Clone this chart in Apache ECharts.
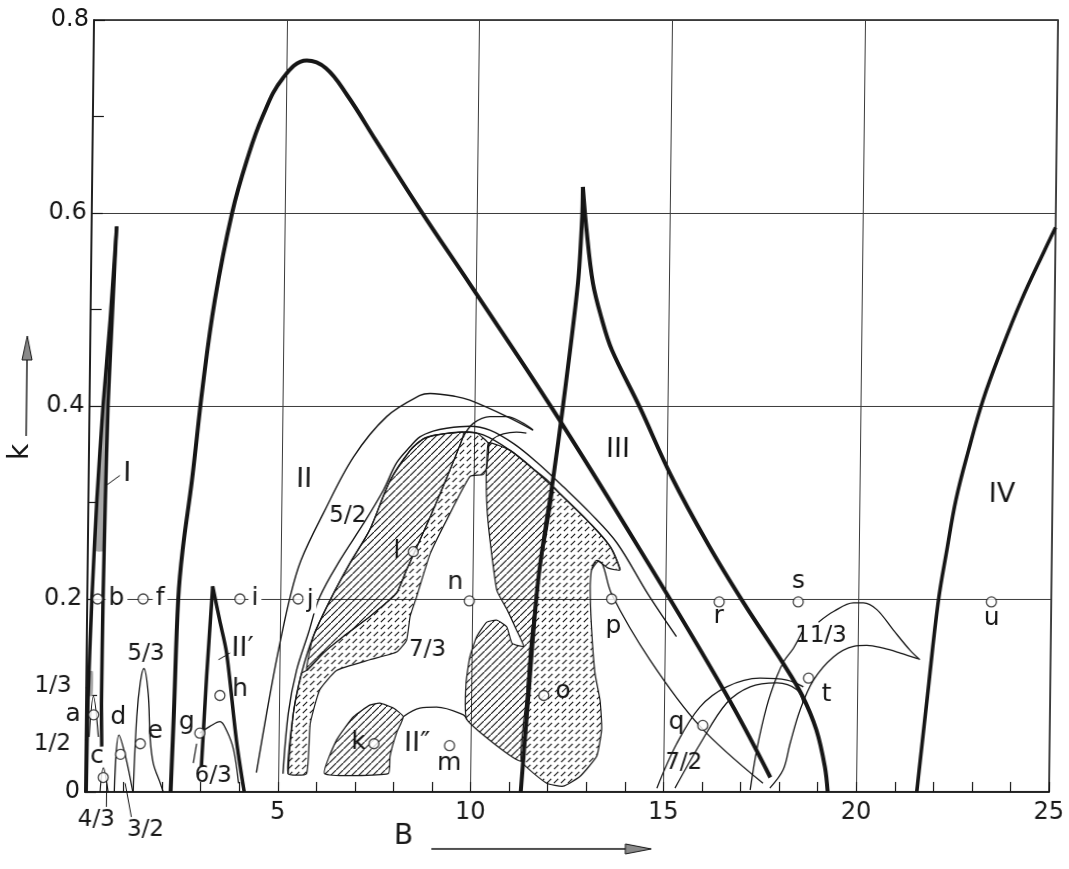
<!DOCTYPE html>
<html><head><meta charset="utf-8">
<script src="https://cdn.jsdelivr.net/npm/echarts/dist/echarts.min.js"></script>
<style>html,body{margin:0;padding:0;background:#fff;}#c{width:1069px;height:869px;transform:skewX(-0.668deg);transform-origin:0 792px;}</style>
</head><body><div id="c"></div>
<script>
// ---------- axis labels ----------
const xTickLabels = ['', '5', '10', '15', '20', '25'];
const yTickLabels = ['0', '0.2', '0.4', '0.6', '0.8'];

// ---------- thick boundary curves ----------
const curveII = [[2.22,0],[2.28,0.08],[2.36,0.2],[2.46,0.251],[2.68,0.323],[2.93,0.42],[3.22,0.51],[3.64,0.6],[4.01,0.655],[4.4,0.70],[4.92,0.74],[5.53,0.758],[6.03,0.75],[6.59,0.722],[7.35,0.675],[8.52,0.603],[9.85,0.525],[11.99,0.398],[14.32,0.251],[16.57,0.103],[17.77,0.015]];
const curveIIIleft = [[11.3,0],[11.47,0.1],[11.69,0.22],[12.05,0.326],[12.28,0.4],[12.63,0.527],[12.72,0.596],[12.73,0.627]];
const curveIIIright = [[12.73,0.627],[12.83,0.585],[13.02,0.527],[13.26,0.49],[13.53,0.458],[14.28,0.398],[15.1,0.328],[16.11,0.255],[17.04,0.195],[18.07,0.133],[18.57,0.1],[18.95,0.064],[19.18,0.026],[19.26,0]];
const curveIIpLeft = [[3.01,0.026],[3.12,0.12],[3.25,0.213]];
const curveIIpRight = [[3.25,0.213],[3.44,0.178],[3.63,0.144],[3.91,0.054],[4.13,0]];
const curveIV = [[21.57,0],[21.82,0.1],[22.07,0.197],[22.28,0.251],[22.5,0.303],[22.81,0.354],[23.17,0.406],[23.63,0.458],[24.14,0.51],[24.73,0.562],[25.0,0.585]];
const curveIa = [[0.03,0],[0.05,0.095],[0.12,0.2],[0.22,0.303],[0.35,0.399],[0.51,0.489],[0.65,0.586]];
const curveIb = [[0.42,0.047],[0.40,0.095],[0.41,0.2],[0.44,0.303],[0.48,0.399],[0.56,0.489],[0.65,0.586]];
const regionIgray = [[0.17,0.25],[0.22,0.303],[0.35,0.399],[0.51,0.489],[0.6,0.55],[0.54,0.489],[0.48,0.399],[0.44,0.303],[0.42,0.25]];

// ---------- small subharmonic curves, left ----------
const region13 = [[0.05,0.1],[0.06,0.125],[0.17,0.125],[0.17,0.1]];
const curveA = [[0.09,0.057],[0.19,0.099],[0.33,0.057]];
const curveC = [[0.39,0],[0.47,0.025],[0.6,0]];
const curveD = [[0.76,0],[0.86,0.059],[1.04,0.037],[1.24,0]];
const curve53 = [[1.25,0],[1.32,0.078],[1.40,0.113],[1.49,0.128],[1.61,0.102],[1.67,0.057],[1.76,0.03],[1.95,0.009],[2.03,0]];
const curveGleft = [[2.8,0.03],[2.88,0.05]];
const curve63 = [[2.96,0.061],[3.22,0.068],[3.48,0.073],[3.65,0.064],[3.84,0.044],[3.98,0.009]];

// ---------- central arch ----------
const curve52 = [[4.44,0.02],[4.68,0.08],[4.96,0.144],[5.26,0.202],[5.53,0.24],[6.1,0.289],[6.86,0.347],[7.71,0.389],[8.57,0.411],[8.83,0.413],[9.48,0.41],[9.86,0.406],[10.83,0.389],[11.51,0.375]];
const archA1 = [[5.13,0.019],[5.25,0.082],[5.45,0.126],[5.74,0.164],[6.03,0.202],[6.54,0.24],[7.14,0.278],[7.65,0.313],[7.98,0.341],[8.33,0.358],[8.58,0.368],[8.92,0.374],[9.27,0.377],[9.87,0.379],[10.39,0.375],[11.01,0.361],[11.61,0.342],[12.32,0.316],[13.02,0.289],[13.72,0.258],[14.54,0.205],[15.29,0.161]];
const archA2 = [[5.26,0.019],[5.38,0.082],[5.58,0.123],[5.87,0.161],[6.34,0.202],[6.8,0.237],[7.31,0.272],[7.82,0.323],[8.33,0.354],[8.67,0.366],[9.01,0.37],[9.7,0.373],[10.22,0.37],[10.92,0.354],[11.52,0.335],[12.23,0.309],[12.93,0.282],[13.55,0.254],[13.81,0.23]];
const arcX1 = [[9.7,0.368],[9.96,0.382],[10.39,0.389],[10.83,0.389],[11.26,0.382],[11.51,0.375]];
const arcX2 = [[10.36,0.359],[10.48,0.366],[10.74,0.371],[11.08,0.373],[11.34,0.372]];
const lineP = [[13.07,0.23],[13.2,0.24],[13.35,0.236],[13.6,0.205],[14.61,0.137],[15.93,0.068],[17.58,0.009]];
const humpII2 = [[8.23,0.078],[8.66,0.087],[9.09,0.088],[9.79,0.08],[9.88,0.075]];

const regionS1 = [[5.71,0.126],[5.87,0.161],[6.34,0.202],[6.8,0.237],[7.31,0.272],[7.82,0.323],[8.33,0.354],[8.67,0.366],[9.01,0.37],[9.7,0.373],[9.7,0.368],[9.26,0.323],[8.87,0.285],[8.53,0.254],[8.27,0.23],[8.02,0.206],[7.34,0.182],[6.65,0.161],[6.14,0.144]];
const regionD1 = [[5.26,0.019],[5.38,0.082],[5.58,0.123],[5.71,0.126],[6.14,0.144],[6.65,0.161],[7.34,0.182],[8.02,0.206],[8.27,0.23],[8.53,0.254],[8.87,0.285],[9.26,0.323],[9.7,0.368],[9.74,0.373],[10.05,0.372],[10.36,0.361],[10.32,0.337],[10.23,0.329],[9.89,0.327],[9.3,0.282],[8.88,0.247],[8.54,0.202],[8.38,0.182],[8.29,0.157],[8.04,0.145],[7.35,0.137],[6.49,0.126],[6.06,0.106],[5.82,0.071],[5.74,0.019]];
const regionS2 = [[10.36,0.362],[10.92,0.354],[11.52,0.335],[12.05,0.316],[11.69,0.22],[11.5,0.151],[11.42,0.099],[11.31,0.032],[9.88,0.075],[9.85,0.113],[9.94,0.14],[10.11,0.161],[10.37,0.176],[10.63,0.178],[10.89,0.171],[11.03,0.154],[11.33,0.151],[11.14,0.168],[10.89,0.189],[10.62,0.209],[10.45,0.254],[10.35,0.289],[10.31,0.323],[10.32,0.341]];
const regionD2 = [[12.05,0.316],[12.23,0.309],[12.93,0.282],[13.55,0.254],[13.81,0.23],[13.5,0.232],[13.24,0.239],[13.07,0.23],[13.04,0.213],[13.09,0.168],[13.19,0.123],[13.33,0.095],[13.38,0.065],[13.26,0.037],[12.83,0.016],[12.4,0.006],[11.97,0.009],[11.31,0.032],[11.36,0.075],[11.42,0.099],[11.5,0.151],[11.69,0.22]];
const regionS4 = [[6.21,0.019],[6.51,0.054],[6.94,0.078],[7.36,0.09],[7.62,0.092],[7.97,0.087],[8.23,0.078],[8.06,0.061],[7.9,0.037],[7.86,0.019]];

// ---------- right-hand curves ----------
const arc72outer = [[14.83,0.004],[15.33,0.05],[15.92,0.088],[16.61,0.109],[17.47,0.118],[18.17,0.116],[18.6,0.109]];
const arc72inner = [[15.3,0.004],[15.94,0.05],[16.61,0.092],[17.22,0.109],[17.91,0.113],[18.43,0.106],[18.6,0.092]];
const curve113 = [[17.25,0.002],[17.41,0.044],[17.65,0.088],[17.91,0.12],[18.11,0.137],[18.33,0.149],[18.55,0.166]];
const wedgeLow = [[17.76,0.004],[18.1,0.023],[18.27,0.05],[18.52,0.085],[18.86,0.116],[19.37,0.14],[19.89,0.151],[20.23,0.152],[20.66,0.149],[21.1,0.144],[21.57,0.138]];
const wedgeHigh = [[18.97,0.176],[19.36,0.187],[19.87,0.196],[20.13,0.196],[20.48,0.189],[20.91,0.168],[21.35,0.147],[21.61,0.137]];

// ---------- leader lines ----------
const leader13 = [[-0.38,0.108],[0.05,0.108]];
const leader12 = [[-0.36,0.051],[0.0,0.054]];
const leaderI = [[0.47,0.318],[0.81,0.328]];
const leaderIIp = [[3.42,0.137],[3.72,0.144]];
const leader43 = [[0.56,0.009],[0.56,-0.0155]];
const leader32 = [[1.04,0.009],[1.21,-0.026]];

// ---------- marked points ----------
const circlePts = [[0.2,0.08],[0.27,0.2],[0.47,0.015],[0.91,0.039],[1.42,0.05],[1.45,0.2],[2.96,0.061],[3.47,0.1],[3.96,0.2],[5.47,0.2],[7.48,0.05],[8.44,0.249],[9.44,0.048],[9.91,0.198],[11.87,0.1],[13.6,0.2],[16.0,0.069],[16.39,0.197],[18.44,0.197],[18.73,0.118],[23.45,0.197]];

// ---------- text labels ----------
const letterNames = ['a','c','d','e','g','h','k','l','m','n','o','p','q','r','s','t','u'];
const letterPos = [[-0.33,0.08],[0.30,0.037],[0.84,0.077],[1.80,0.063],[2.62,0.072],[3.99,0.106],[7.08,0.051],[8.01,0.249],[9.44,0.03],[9.54,0.217],[12.37,0.104],[13.65,0.172],[15.32,0.072],[16.38,0.182],[18.44,0.218],[19.2,0.101],[23.46,0.18]];
const lineLetterNames = ['b','f','i','j'];
const lineLetterPos = [[0.76,0.201],[1.89,0.201],[4.35,0.201],[5.78,0.198]];
const fracNames = ['1/3','1/2','4/3','3/2','5/3','6/3','5/2','7/3','7/2','11/3'];
const fracPos = [[-0.86,0.11],[-0.86,0.05],[0.30,-0.029],[1.58,-0.039],[1.54,0.143],[3.32,0.017],[6.73,0.286],[8.84,0.147],[15.52,0.03],[19.04,0.162]];
const romanNames = ['I','II','II\u2032','II\u2033','III','IV'];
const romanPos = [[1.0,0.33],[5.59,0.323],[4.04,0.148],[8.6,0.05],[13.72,0.354],[23.69,0.308]];

// ---------- hatch patterns ----------
function makeHatch(dashed){
  const T = 7, c = document.createElement('canvas');
  c.width = T; c.height = T;
  const g = c.getContext('2d');
  g.strokeStyle = '#111'; g.lineWidth = 1.1;
  g.beginPath();
  if (dashed) { g.moveTo(T*0.12, T*0.88); g.lineTo(T*0.74, T*0.26); }
  else { g.moveTo(-1, T+1); g.lineTo(T+1, -1); }
  g.stroke();
  return c;
}
const hatchSolid = {image: makeHatch(false), repeat: 'repeat'};
const hatchDash = {image: makeHatch(true), repeat: 'repeat'};

const TICKFONT = 'DejaVu Sans, Liberation Sans, sans-serif';
const LABFONT = 'DejaVu Sans, Liberation Sans, sans-serif';
const INK = '#161616';

function lineS(data, w, z, extra){
  return Object.assign({type:'line', data:data, smooth:0.35, symbol:'none', clip:false, silent:true,
    lineStyle:{color:INK, width:w}, z:z}, extra||{});
}
function polyS(pts, fill, stroke){
  return {type:'custom', data:pts, z:1, silent:true, clip:false,
    renderItem:function(params, api){
      if (params.dataIndex !== 0) return null;
      return {type:'polygon', shape:{points:pts.map(function(p){return api.coord(p);}), smooth:0.15},
        style:{fill:fill, stroke:stroke ? INK : null, lineWidth:1.2}};
    }};
}
function textS(names, pos, size, bg){
  return {type:'custom', data:pos, z:8, silent:true, clip:false,
    renderItem:function(params, api){
      const p = api.coord(pos[params.dataIndex]);
      const st = {text:names[params.dataIndex], fontSize:size, fontFamily:LABFONT, fill:INK,
        align:'center', verticalAlign:'middle'};
      if (bg) { st.backgroundColor = '#fff'; st.padding = [0,3]; }
      return {type:'text', x:p[0], y:p[1], style:st};
    }};
}

const series = [
  polyS(regionIgray, '#a8a8a8', false),
  polyS(region13, '#a8a8a8', false),
  polyS(regionS1, hatchSolid, true),
  polyS(regionD1, hatchDash, true),
  polyS(regionS2, hatchSolid, true),
  polyS(regionD2, hatchDash, true),
  polyS(regionS4, hatchSolid, true),
  lineS(curveA, 1.2, 3), lineS(curveC, 1.2, 3), lineS(curveD, 1.3, 3), lineS(curve53, 1.3, 3),
  lineS(curveGleft, 1.2, 3), lineS(curve63, 1.3, 3),
  lineS(curve52, 1.4, 3), lineS(archA1, 1.4, 3), lineS(archA2, 1.4, 3),
  lineS(arcX1, 1.3, 3), lineS(arcX2, 1.3, 3), lineS(lineP, 1.3, 3), lineS(humpII2, 1.3, 3),
  lineS(arc72outer, 1.3, 3), lineS(arc72inner, 1.3, 3), lineS(curve113, 1.3, 3),
  lineS(wedgeLow, 1.3, 3), lineS(wedgeHigh, 1.3, 3),
  lineS(leader13, 1, 3, {smooth:false}), lineS(leader12, 1, 3, {smooth:false}), lineS(leaderI, 1, 3, {smooth:false}),
  lineS(leaderIIp, 1, 3, {smooth:false}), lineS(leader43, 1, 3, {smooth:false}), lineS(leader32, 1, 3, {smooth:false}),
  lineS(curveII, 4, 4, {smooth:0.4}), lineS(curveIIIleft, 4, 4, {smooth:0.3}), lineS(curveIIIright, 4, 4, {smooth:0.35}),
  lineS(curveIIpLeft, 3.5, 4, {smooth:0.2}), lineS(curveIIpRight, 3.5, 4, {smooth:0.3}),
  lineS(curveIV, 3.6, 4, {smooth:0.4}), lineS(curveIa, 3.5, 4, {smooth:0.2}), lineS(curveIb, 3.5, 4, {smooth:0.2}),
  {type:'scatter', data:circlePts, symbol:'circle', symbolSize:10, silent:true, z:6,
    itemStyle:{color:'#fff', borderColor:INK, borderWidth:1.3}},
  textS(letterNames, letterPos, 25, false),
  textS(lineLetterNames, lineLetterPos, 25, true),
  textS(fracNames, fracPos, 23, false),
  textS(romanNames, romanPos, 27, false)
];

const chart = echarts.init(document.getElementById('c'), null, {renderer:'canvas'});
chart.setOption({
  backgroundColor:'#fff',
  animation:false,
  grid:{left:85, right:20, top:20, bottom:77, containLabel:false, outerBoundsMode:'none',
    show:true, borderColor:INK, borderWidth:1.5, backgroundColor:'transparent'},
  xAxis:{type:'value', min:0, max:25, interval:5,
    axisLine:{show:true, lineStyle:{color:INK, width:1.5}},
    axisTick:{show:true, inside:true, length:10, lineStyle:{color:INK, width:1.2}},
    minorTick:{show:true, splitNumber:5, length:10, lineStyle:{color:INK, width:1.2}},
    splitLine:{show:true, lineStyle:{color:'#3a3a3a', width:1}},
    axisLabel:{fontSize:24, color:INK, fontFamily:TICKFONT, margin:9,
      formatter:function(v){return xTickLabels[Math.round(v/5)];}}},
  yAxis:{type:'value', min:0, max:0.8, interval:0.2,
    axisLine:{show:true, lineStyle:{color:INK, width:1.5}},
    axisTick:{show:true, inside:true, length:11, lineStyle:{color:INK, width:1.2}},
    minorTick:{show:true, splitNumber:2, length:11, lineStyle:{color:INK, width:1.2}},
    splitLine:{show:true, lineStyle:{color:'#3a3a3a', width:1}},
    axisLabel:{fontSize:24, color:INK, fontFamily:TICKFONT, margin:5,
      formatter:function(v){return yTickLabels[Math.round(v/0.2)];}}},
  graphic:[
    {type:'text', x:404, y:837, style:{text:'B', font:'28px DejaVu Sans', fill:INK, textAlign:'center', textVerticalAlign:'middle'}},
    {type:'line', shape:{x1:432, y1:849, x2:640, y2:849}, style:{stroke:INK, lineWidth:1.4}},
    {type:'polygon', shape:{points:[[626,844],[652,849],[626,854]]}, style:{fill:'#8a8a8a', stroke:INK, lineWidth:1}},
    {type:'text', x:17, y:452, rotation:Math.PI/2, style:{text:'k', font:'28px DejaVu Sans', fill:INK, textAlign:'center', textVerticalAlign:'middle'}},
    {type:'line', shape:{x1:22, y1:436, x2:22, y2:356}, style:{stroke:INK, lineWidth:1.4}},
    {type:'polygon', shape:{points:[[17,360],[22,336],[27,360]]}, style:{fill:'#8a8a8a', stroke:INK, lineWidth:1}}
  ],
  series:series
});
</script></body></html>
